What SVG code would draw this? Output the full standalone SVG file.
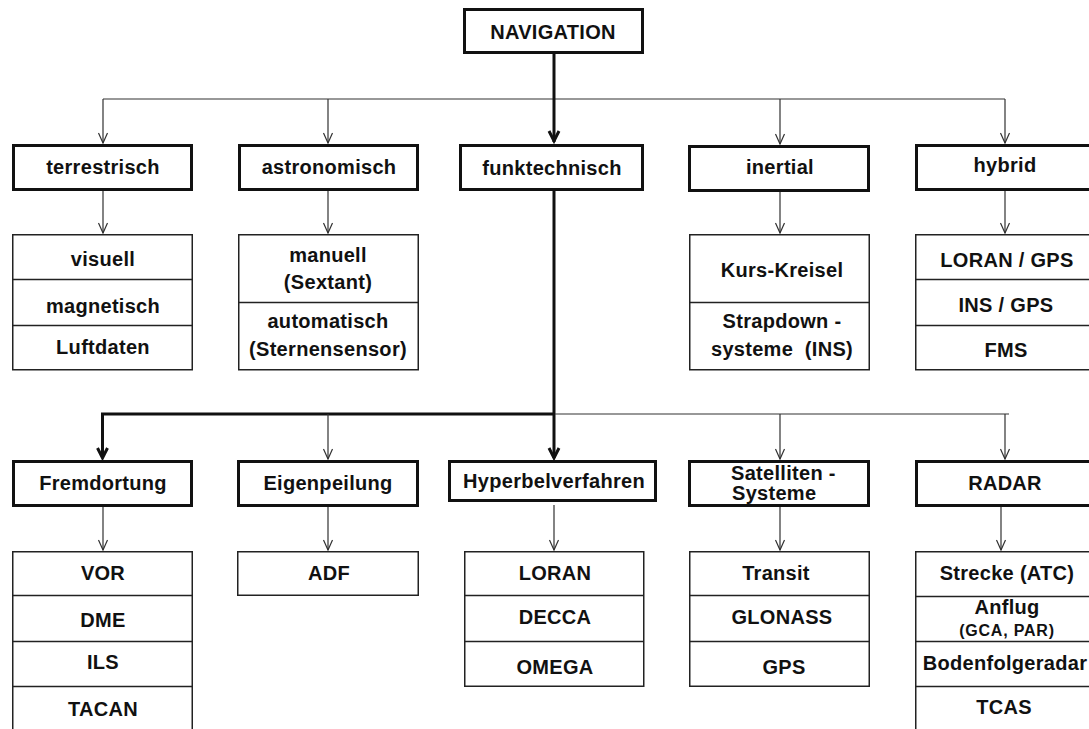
<svg xmlns="http://www.w3.org/2000/svg" width="1089" height="729" viewBox="0 0 1089 729">
<style>
text{font-family:"Liberation Sans",Arial,sans-serif;font-weight:bold;font-size:20px;letter-spacing:0.3px;fill:#111;text-anchor:middle}
.small{font-size:16px;letter-spacing:0.8px}
.hd{fill:#fff;stroke:#111;stroke-width:3}
.sb{fill:#fff;stroke:#222;stroke-width:1.5}
.dv{stroke:#222;stroke-width:1.5}
.th{fill:none;stroke:#333;stroke-width:1.2}
.tk{fill:none;stroke:#111;stroke-width:3}
.ah{fill:none;stroke:#333;stroke-width:1.2}
.ak{fill:none;stroke:#111;stroke-width:3;stroke-linejoin:miter}
</style>
<rect width="1089" height="729" fill="#fff"/>
<g id="connectors">
<path class="th" d="M103 99H1005M103 99V143M328 99V143M780 99V144M1005 99V143"/>
<path class="ah" d="M98.5 133L103 143L107.5 133M323.5 133L328 143L332.5 133M775.5 134L780 144L784.5 134M1000.5 133L1005 143L1009.5 133"/>
<path class="tk" d="M554 54V142"/>
<path class="ak" d="M549 131L554 141L559 131"/>
<path class="th" d="M103 191V233M328 191V233M780 192V233M1005 191V233"/>
<path class="ah" d="M98.5 223L103 233L107.5 223M323.5 223L328 233L332.5 223M775.5 223L780 233L784.5 223M1000.5 223L1005 233L1009.5 223"/>
<path class="tk" d="M554 191V458M554 414H102.5V458"/>
<path class="ak" d="M97.5 448L102.5 458L107.5 448M549 448L554 458L559 448"/>
<path class="th" d="M555 414H1009M328 414V459M780 414V459M1005 414V459"/>
<path class="ah" d="M323.5 449L328 459L332.5 449M775.5 449L780 459L784.5 449M1000.5 449L1005 459L1009.5 449"/>
<path class="th" d="M103 507V550M328 507V550M554 505V550M780 507V550M1001 507V550"/>
<path class="ah" d="M98.5 540L103 550L107.5 540M323.5 540L328 550L332.5 540M549.5 540L554 550L558.5 540M775.5 540L780 550L784.5 540M996.5 540L1001 550L1005.5 540"/>
</g>
<g id="navigation">
<rect class="hd" x="464.5" y="9.5" width="178" height="43"/>
<text x="553" y="39">NAVIGATION</text>
</g>
<g id="terrestrisch">
<rect class="hd" x="13.5" y="145.5" width="178" height="44"/>
<text x="103" y="174">terrestrisch</text>
</g>
<g id="astronomisch">
<rect class="hd" x="239.5" y="145.5" width="178" height="44"/>
<text x="329" y="174">astronomisch</text>
</g>
<g id="funktechnisch">
<rect class="hd" x="460.5" y="145.5" width="182" height="44"/>
<text x="552" y="175">funktechnisch</text>
</g>
<g id="inertial">
<rect class="hd" x="689.5" y="146.5" width="179" height="44"/>
<text x="780" y="174">inertial</text>
</g>
<g id="hybrid">
<rect class="hd" x="916.5" y="145.5" width="180" height="44"/>
<text x="1005" y="172">hybrid</text>
</g>
<g id="terrestrisch-sub">
<rect class="sb" x="12.75" y="234.75" width="179.5" height="135"/>
<path class="dv" d="M12.75 279.5H192.25M12.75 325.5H192.25"/>
<text x="103" y="266">visuell</text>
<text x="103" y="313">magnetisch</text>
<text x="103" y="354">Luftdaten</text>
</g>
<g id="astronomisch-sub">
<rect class="sb" x="238.75" y="234.75" width="179.5" height="135"/>
<path class="dv" d="M238.75 302.5H418.25"/>
<text x="328" y="262">manuell</text>
<text x="328" y="289">(Sextant)</text>
<text x="328" y="328">automatisch</text>
<text x="328" y="356">(Sternensensor)</text>
</g>
<g id="inertial-sub">
<rect class="sb" x="689.75" y="234.75" width="179.5" height="135"/>
<path class="dv" d="M689.75 302.5H869.25"/>
<text x="782" y="277">Kurs-Kreisel</text>
<text x="782" y="328">Strapdown -</text>
<text x="782" y="356">systeme&#160; (INS)</text>
</g>
<g id="hybrid-sub">
<rect class="sb" x="915.75" y="234.75" width="180" height="135"/>
<path class="dv" d="M915.75 279.5H1096M915.75 325.5H1096"/>
<text x="1007" y="267">LORAN / GPS</text>
<text x="1006" y="312">INS / GPS</text>
<text x="1006" y="357">FMS</text>
</g>
<g id="fremdortung">
<rect class="hd" x="13.5" y="461.5" width="178" height="44"/>
<text x="103" y="490">Fremdortung</text>
</g>
<g id="eigenpeilung">
<rect class="hd" x="238.5" y="461.5" width="179" height="44"/>
<text x="328" y="490">Eigenpeilung</text>
</g>
<g id="hyperbelverfahren">
<rect class="hd" x="449.5" y="461.5" width="206" height="39"/>
<text x="554" y="488">Hyperbelverfahren</text>
</g>
<g id="satelliten">
<rect class="hd" x="689.5" y="461.5" width="179" height="44"/>
<text x="731" y="480" style="text-anchor:start">Satelliten -</text>
<text x="732" y="500" style="text-anchor:start">Systeme</text>
</g>
<g id="radar">
<rect class="hd" x="916.5" y="461.5" width="180" height="44"/>
<text x="1005" y="490">RADAR</text>
</g>
<g id="fremdortung-sub">
<rect class="sb" x="12.75" y="551.75" width="179.5" height="190"/>
<path class="dv" d="M12.75 595.5H192.25M12.75 641.5H192.25M12.75 686.5H192.25"/>
<text x="103" y="580">VOR</text>
<text x="103" y="627">DME</text>
<text x="103" y="669">ILS</text>
<text x="103" y="716">TACAN</text>
</g>
<g id="eigenpeilung-sub">
<rect class="sb" x="237.75" y="551.75" width="180.5" height="43.5"/>
<text x="329" y="580">ADF</text>
</g>
<g id="hyperbel-sub">
<rect class="sb" x="464.75" y="551.75" width="179" height="134.5"/>
<path class="dv" d="M464.75 595.5H643.75M464.75 641.5H643.75"/>
<text x="555" y="580">LORAN</text>
<text x="555" y="624">DECCA</text>
<text x="555" y="674">OMEGA</text>
</g>
<g id="satelliten-sub">
<rect class="sb" x="689.75" y="551.75" width="179.5" height="134.5"/>
<path class="dv" d="M689.75 595.5H869.25M689.75 641.5H869.25"/>
<text x="776" y="580">Transit</text>
<text x="782" y="624">GLONASS</text>
<text x="784" y="674">GPS</text>
</g>
<g id="radar-sub">
<rect class="sb" x="915.75" y="551.75" width="180" height="190"/>
<path class="dv" d="M915.75 596.5H1096M915.75 641.5H1096M915.75 686.5H1096"/>
<text x="1007" y="580">Strecke (ATC)</text>
<text x="1007" y="614">Anflug</text>
<text class="small" x="1007" y="636">(GCA, PAR)</text>
<text x="1005" y="670">Bodenfolgeradar</text>
<text x="1004" y="714">TCAS</text>
</g>
</svg>
